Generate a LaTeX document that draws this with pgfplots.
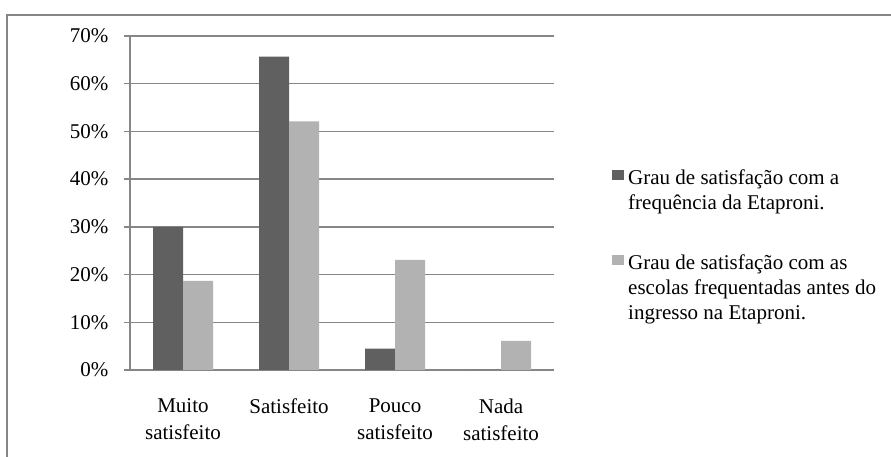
\documentclass[border=0pt]{standalone}
\usepackage{fontspec}
\setmainfont{Liberation Serif}
\usepackage{pgfplots}
\pgfplotsset{compat=1.18}
\definecolor{darkbar}{RGB}{96,96,96}
\definecolor{lightbar}{RGB}{178,178,178}
\definecolor{gridgray}{RGB}{134,134,134}
\newcommand{\chartfont}{\fontsize{21}{25}\selectfont}
\newcommand{\catfont}{\fontsize{21}{27}\selectfont}

\begin{document}
\begin{tikzpicture}
\useasboundingbox (0,0) rectangle (891pt,457pt);
% outer chart frame (cut off at right and bottom)
\draw[gridgray, line width=1.5pt] (7pt,0pt) -- (7pt,442pt) -- (891pt,442pt);
\begin{axis}[
    at={(130pt,87pt)}, anchor=south west,
    width=424pt, height=334pt, scale only axis,
    ybar=0pt, bar width=30pt,
    xmin=0.5, xmax=4.5, ymin=0, ymax=70,
    axis lines=left,
    axis line style={gridgray, line width=1.3pt, -},
    ymajorgrids, grid style={gridgray, line width=1.3pt},
    tick align=outside,
    ytick={0,10,...,70},
    yticklabel={\pgfmathprintnumber{\tick}\%},
    /pgf/number format/assume math mode=true,
    y tick style={gridgray, line width=1.3pt},
    major tick length=6pt, minor tick length=5pt,
    xtick={1,2,3,4},
    xticklabels={{Muito\\satisfeito},Satisfeito,{Pouco\\satisfeito},{Nada\\satisfeito}},
    x tick style={draw=none},
    minor xtick={0.5,1.5,2.5,3.5,4.5},
    minor x tick style={gridgray, line width=1.3pt},
    yticklabel style={font=\chartfont, xshift=-12pt},
    xticklabel style={font=\catfont, align=center, yshift=-19pt},
    legend style={at={(1.1368,0.609)}, anchor=north west, draw=none, fill=none,
        inner sep=0pt, row sep=66pt, column sep=4pt, font=\chartfont,
        nodes={inner sep=0pt, anchor=base west}},
    legend image code/.code={\fill[#1] (0pt,4pt) rectangle (12pt,14pt);},
]
\addplot[fill=darkbar, draw=none] coordinates {(1,30.0) (2,65.7) (3,4.5) (4,0)};
\addlegendentry{\chartfont\begin{tabular}[t]{@{}l@{}}Grau de satisfação com a\\frequência da Etaproni.\end{tabular}}
\addplot[fill=lightbar, draw=none] coordinates {(1,18.7) (2,52.1) (3,23.1) (4,6.1)};
\addlegendentry{\chartfont\begin{tabular}[t]{@{}l@{}}Grau de satisfação com as\\escolas frequentadas antes do\\ingresso na Etaproni.\end{tabular}}
\end{axis}
\end{tikzpicture}
\end{document}
